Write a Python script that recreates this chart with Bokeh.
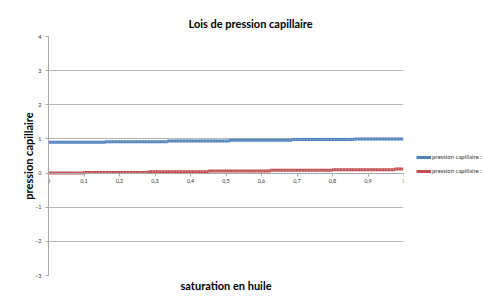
from bokeh.plotting import figure
from bokeh.models import FixedTicker, Legend, LegendItem, Title
from bokeh.embed import file_html
from bokeh.resources import INLINE

# Data
sat_blue = [0.0, 0.16, 0.335, 0.51, 0.685, 0.86, 1.0]
pc_blue = [0.90, 0.92, 0.94, 0.96, 0.98, 1.00, 1.00]
sat_red = [0.0, 0.10, 0.28, 0.45, 0.625, 0.80, 0.975, 1.0]
pc_red = [0.00, 0.02, 0.04, 0.06, 0.08, 0.10, 0.12, 0.12]
x_ticks = [0, 0.1, 0.2, 0.3, 0.4, 0.5, 0.6, 0.7, 0.8, 0.9, 1.0]
x_labels = ["0", "0,1", "0,2", "0,3", "0,4", "0,5", "0,6", "0,7", "0,8", "0,9", "1"]
y_ticks = [-3, -2, -1, 0, 1, 2, 3, 4]
legend_labels = ["pression capillaire :", "pression capillaire :"]

FONT = "Lato"
p = figure(frame_width=355, frame_height=239, x_range=(0, 1), y_range=(-3, 4),
           output_backend="svg", toolbar_location=None,
           min_border_left=48, min_border_right=0, min_border_top=36, min_border_bottom=0)
p.outline_line_color = None
p.background_fill_color = "white"
p.border_fill_color = "white"

p.title.text = "Lois de pression capillaire"
p.title.align = "left"
p.title.offset = 140
p.title.text_font = FONT
p.title.text_font_size = "11px"
p.title.text_font_style = "bold"
p.title.text_color = "black"
p.title.standoff = 14

# grid
p.xgrid.visible = False
p.ygrid.ticker = FixedTicker(ticks=y_ticks)
p.ygrid.grid_line_color = "#b5b5b5"
p.ygrid.grid_line_width = 1

# x axis at y=0
xa = p.xaxis[0]
xa.fixed_location = 0
xa.ticker = FixedTicker(ticks=x_ticks)
xa.major_label_overrides = {t: l for t, l in zip(x_ticks, x_labels)}
xa.axis_line_color = "#a8a8a8"
xa.major_tick_line_color = "#a8a8a8"
xa.major_tick_in = 0
xa.major_tick_out = 3
xa.minor_tick_line_color = None
xa.major_label_text_font = FONT
xa.major_label_text_font_size = "5.5px"
xa.major_label_text_color = "#333333"
xa.major_label_standoff = 3

ya = p.yaxis[0]
ya.ticker = FixedTicker(ticks=y_ticks)
ya.axis_line_color = "#a8a8a8"
ya.major_tick_line_color = "#a8a8a8"
ya.major_tick_in = 0
ya.major_tick_out = 3
ya.minor_tick_line_color = None
ya.major_label_text_font = FONT
ya.major_label_text_font_size = "5.5px"
ya.major_label_text_color = "#333333"
ya.major_label_standoff = 4
ya.axis_label = "pression capillaire"
ya.axis_label_text_font = FONT
ya.axis_label_text_font_size = "11px"
ya.axis_label_text_font_style = "bold"
ya.axis_label_text_color = "black"
ya.axis_label_standoff = -3

xt = Title(text="saturation en huile", align="center", text_font=FONT,
           text_font_size="11px", text_font_style="bold", text_color="black",
           standoff=3)

BLUE = "#4F81BD"
RED = "#C0504D"
rb = p.step(sat_blue, pc_blue, mode="after", line_color=BLUE, line_width=3)
p.step(sat_blue, pc_blue, mode="after", line_color="#a9c4e4", line_width=1, line_dash="1 2")
rr = p.step(sat_red, pc_red, mode="after", line_color=RED, line_width=3)
p.step(sat_red, pc_red, mode="after", line_color="#e3aaa8", line_width=1, line_dash="1 2")

legend = Legend(items=[LegendItem(label=legend_labels[0], renderers=[rb]),
                       LegendItem(label=legend_labels[1], renderers=[rr])],
                location=(13, 101), orientation="vertical",
                label_text_font=FONT, label_text_font_size="6px",
                label_text_color="#333333",
                glyph_width=15, glyph_height=4, label_standoff=1,
                spacing=7, padding=0, margin=0,
                border_line_color=None, background_fill_alpha=0,
                label_height=6)
p.add_layout(legend, "right")

p.add_layout(xt, "below")

open("out.html", "w").write(file_html(p, INLINE))
